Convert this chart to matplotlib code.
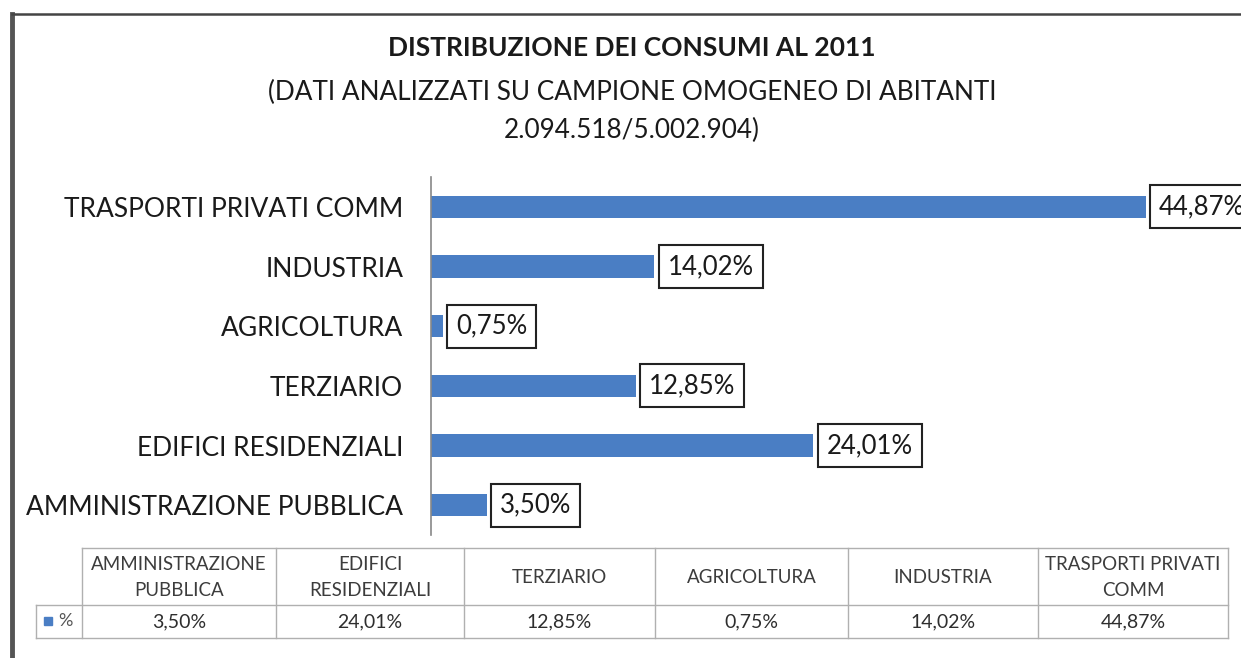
import matplotlib.pyplot as plt
from matplotlib.lines import Line2D
from matplotlib.patches import Rectangle

plt.rcParams['font.family'] = ['Lato', 'DejaVu Sans']

categories = ["AMMINISTRAZIONE PUBBLICA", "EDIFICI RESIDENZIALI", "TERZIARIO",
              "AGRICOLTURA", "INDUSTRIA", "TRASPORTI PRIVATI COMM"]
table_headers = ["AMMINISTRAZIONE\nPUBBLICA", "EDIFICI\nRESIDENZIALI", "TERZIARIO",
                 "AGRICOLTURA", "INDUSTRIA", "TRASPORTI PRIVATI\nCOMM"]
values = [3.50, 24.01, 12.85, 0.75, 14.02, 44.87]
series_name = "%"

W, H = 1241, 658
bar_color = '#4a7ec4'


def fx(px):
    return px / W


def fy(py):
    return 1 - py / H


def pct(v):
    return f"{v:.2f}".replace('.', ',') + "%"


fig = plt.figure(figsize=(W / 100, H / 100), dpi=100)

# outer frame (left and top only visible)
fig.add_artist(Line2D([fx(12), fx(12)], [fy(14), fy(658)], color='#555555', lw=3.5))
fig.add_artist(Line2D([fx(12), fx(1241)], [fy(14), fy(14)], color='#444444', lw=1.8))

# titles
fig.text(fx(632), fy(48), "DISTRIBUZIONE DEI CONSUMI AL 2011", ha='center', va='center',
         fontsize=19, fontweight='bold', color='#1a1a1a')
fig.text(fx(632), fy(92), "(DATI ANALIZZATI SU CAMPIONE OMOGENEO DI ABITANTI",
         ha='center', va='center', fontsize=18.8, color='#1a1a1a')
fig.text(fx(632), fy(130), "2.094.518/5.002.904)",
         ha='center', va='center', fontsize=18.8, color='#1a1a1a')

# bar chart
ax = fig.add_axes([fx(431), fy(535), fx(1241) - fx(431), fy(177) - fy(535)])
ypos = list(range(len(categories)))
ax.barh(ypos, values, height=0.37, color=bar_color)
ax.set_xlim(0, (1241 - 431) / 15.93)
ax.set_ylim(-0.5, len(categories) - 0.5)
ax.set_yticks(ypos)
ax.set_yticklabels(categories, fontsize=19, color='#1a1a1a')
ax.tick_params(axis='y', length=0, pad=20)
ax.set_xticks([])
for s in ['top', 'right', 'bottom']:
    ax.spines[s].set_visible(False)
ax.spines['left'].set_color('#888888')
ax.spines['left'].set_linewidth(1.2)

# value labels in boxes (the largest one runs off the right edge, as in the original)
for y, v in zip(ypos, values):
    ax.annotate(pct(v), xy=(v, y), xytext=(9.5, 0), textcoords='offset points',
                ha='left', va='center', fontsize=18.5, color='#1a1a1a',
                bbox=dict(boxstyle='square,pad=0.35', fc='white', ec='#222222', lw=1.5),
                annotation_clip=False, clip_on=False)

# data table below
col_edges = [82, 276, 464, 655, 848, 1038, 1228]
top, mid, bot = 548, 605, 638
leg_left = 36
lc = '#b0b0b0'
fig.add_artist(Line2D([fx(col_edges[0]), fx(col_edges[-1])], [fy(top), fy(top)], color=lc, lw=1))
fig.add_artist(Line2D([fx(leg_left), fx(col_edges[-1])], [fy(mid), fy(mid)], color=lc, lw=1))
fig.add_artist(Line2D([fx(leg_left), fx(col_edges[-1])], [fy(bot), fy(bot)], color=lc, lw=1))
fig.add_artist(Line2D([fx(leg_left), fx(leg_left)], [fy(mid), fy(bot)], color=lc, lw=1))
for x in col_edges:
    fig.add_artist(Line2D([fx(x), fx(x)], [fy(top), fy(bot)], color=lc, lw=1))

for i, (hdr, v) in enumerate(zip(table_headers, values)):
    cx = (col_edges[i] + col_edges[i + 1]) / 2
    fig.text(fx(cx), fy((top + mid) / 2 + 1), hdr, ha='center', va='center',
             fontsize=13.5, color='#3c3c3c', linespacing=1.6)
    fig.text(fx(cx), fy((mid + bot) / 2), pct(v), ha='center', va='center',
             fontsize=14, color='#2e2e2e')

fig.add_artist(Rectangle((fx(44), fy(625)), fx(8), 8 / H, color=bar_color))
fig.text(fx(58), fy(621), series_name, ha='left', va='center', fontsize=13, color='#555555')

fig.savefig('out.png', dpi=100)
